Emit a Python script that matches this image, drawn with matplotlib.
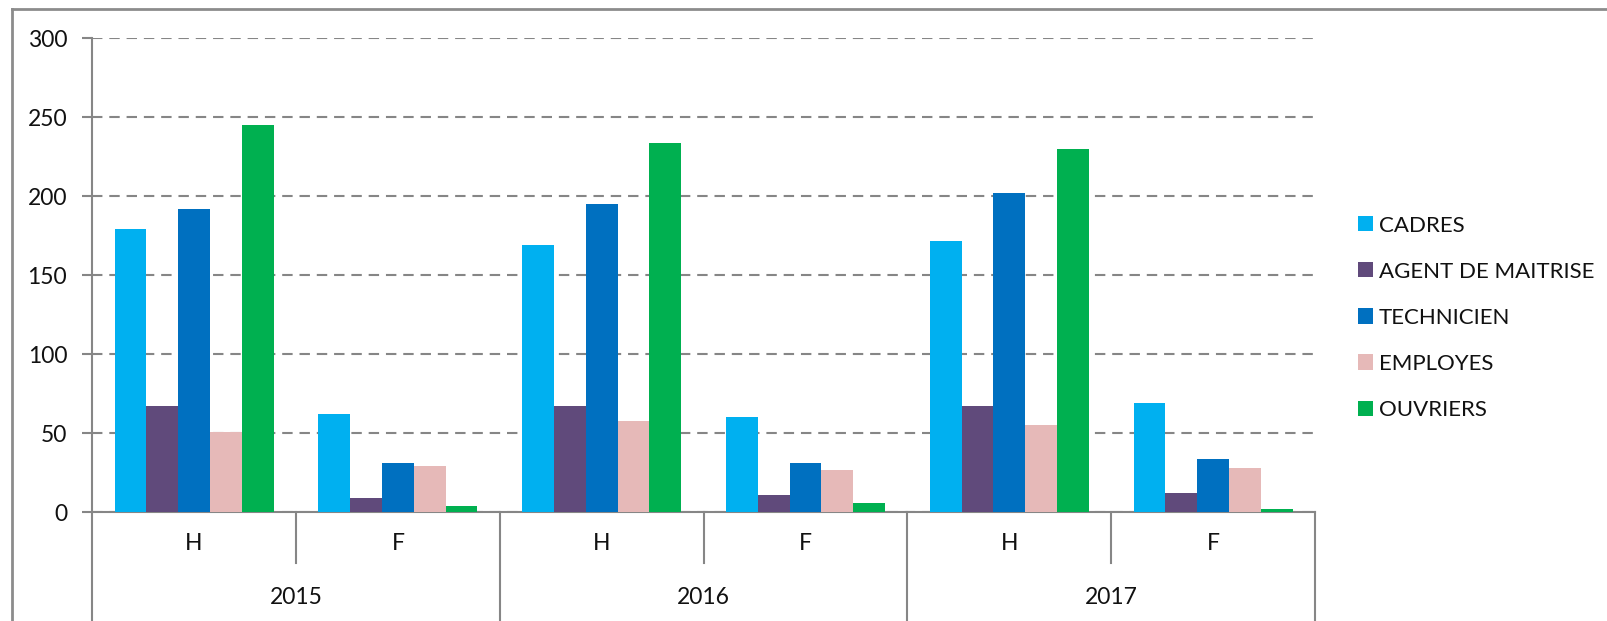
import matplotlib.pyplot as plt
from matplotlib.lines import Line2D
import numpy as np

plt.rcParams["font.family"] = ["Lato", "DejaVu Sans"]

# Data ------------------------------------------------------------------------------- #

years = ["2015", "2016", "2017"]
sexes = ["H", "F"]
series = ["CADRES", "AGENT DE MAITRISE", "TECHNICIEN", "EMPLOYES", "OUVRIERS"]
colors = ["#00B0F0", "#604A7B", "#0070C0", "#E6B9B8", "#00B050"]

cadres = [179, 62, 169, 60, 172, 69]
agent = [67, 9, 67, 11, 67, 12]
technicien = [192, 31, 195, 31, 202, 34]
employes = [51, 29, 58, 27, 55, 28]
ouvriers = [245, 4, 234, 6, 230, 2]

yticks = [0, 50, 100, 150, 200, 250, 300]

# Figure ----------------------------------------------------------------------------- #

W, H = 1607, 621
fig = plt.figure(figsize=(W / 100, H / 100), dpi=100)
x0, x1 = 92.2, 1315.0
y0, y1 = 512.3, 38.3  # pixel rows of 0 and 300
ax = fig.add_axes([x0 / W, (H - y0) / H, (x1 - x0) / W, (y0 - y1) / H])
axh = y0 - y1

grey = "#868686"
txt = "#111111"
fs = 16.5
n = len(series)
width = 0.156
x = np.arange(len(years) * len(sexes))
for i, (vals, c, lab) in enumerate(
    zip([cadres, agent, technicien, employes, ouvriers], colors, series)
):
    ax.bar(x + (i - (n - 1) / 2) * width, vals, width, color=c, label=lab, zorder=3)

ax.set_xlim(-0.5, len(x) - 0.5)
ax.set_ylim(0, 300)
ax.set_yticks(yticks)
ax.set_yticklabels([str(v) for v in yticks], fontsize=fs, color=txt)
ax.yaxis.grid(True, color=grey, linestyle=(0, (5, 3.3)), linewidth=1.5, zorder=0)
ax.tick_params(axis="y", length=7, width=1.5, color=grey, pad=11)
ax.set_xticks([])
for side in ["top", "right"]:
    ax.spines[side].set_visible(False)
for side in ["left", "bottom"]:
    ax.spines[side].set_color(grey)
    ax.spines[side].set_linewidth(1.5)

# Two-level category axis ------------------------------------------------------------ #

tr = ax.get_xaxis_transform()
for k in range(len(x) + 1):
    xb = k - 0.5
    lo = -108.7 / axh if k % 2 == 0 else -50.7 / axh
    ax.add_line(
        Line2D([xb, xb], [0, lo], transform=tr, color=grey, lw=1.5, clip_on=False)
    )
for k in range(len(x)):
    ax.text(k, -31.7 / axh, sexes[k % 2], transform=tr, ha="center", va="center",
            fontsize=fs, color=txt)
for k, yr in enumerate(years):
    ax.text(2 * k + 0.5, -84.7 / axh, yr, transform=tr, ha="center", va="center",
            fontsize=fs, color=txt)

# Legend ----------------------------------------------------------------------------- #

ax.legend(loc="upper left", bbox_to_anchor=(1358 / W, 1 - 215.5 / H),
          bbox_transform=fig.transFigure, frameon=False, fontsize=16,
          handlelength=0.675, handleheight=0.675, handletextpad=0.27,
          labelspacing=1.175, borderpad=0, borderaxespad=0, labelcolor=txt)

# Outer chart border (only top and left show in the crop) ------------------------- #

fig.add_artist(Line2D([11.5 / W, 11.5 / W], [0, 1 - 9.3 / H], color="#8c8c8c", lw=2))
fig.add_artist(Line2D([11.5 / W, 1], [1 - 9.3 / H, 1 - 9.3 / H], color="#8c8c8c", lw=2))

fig.savefig("out.png", dpi=100)
